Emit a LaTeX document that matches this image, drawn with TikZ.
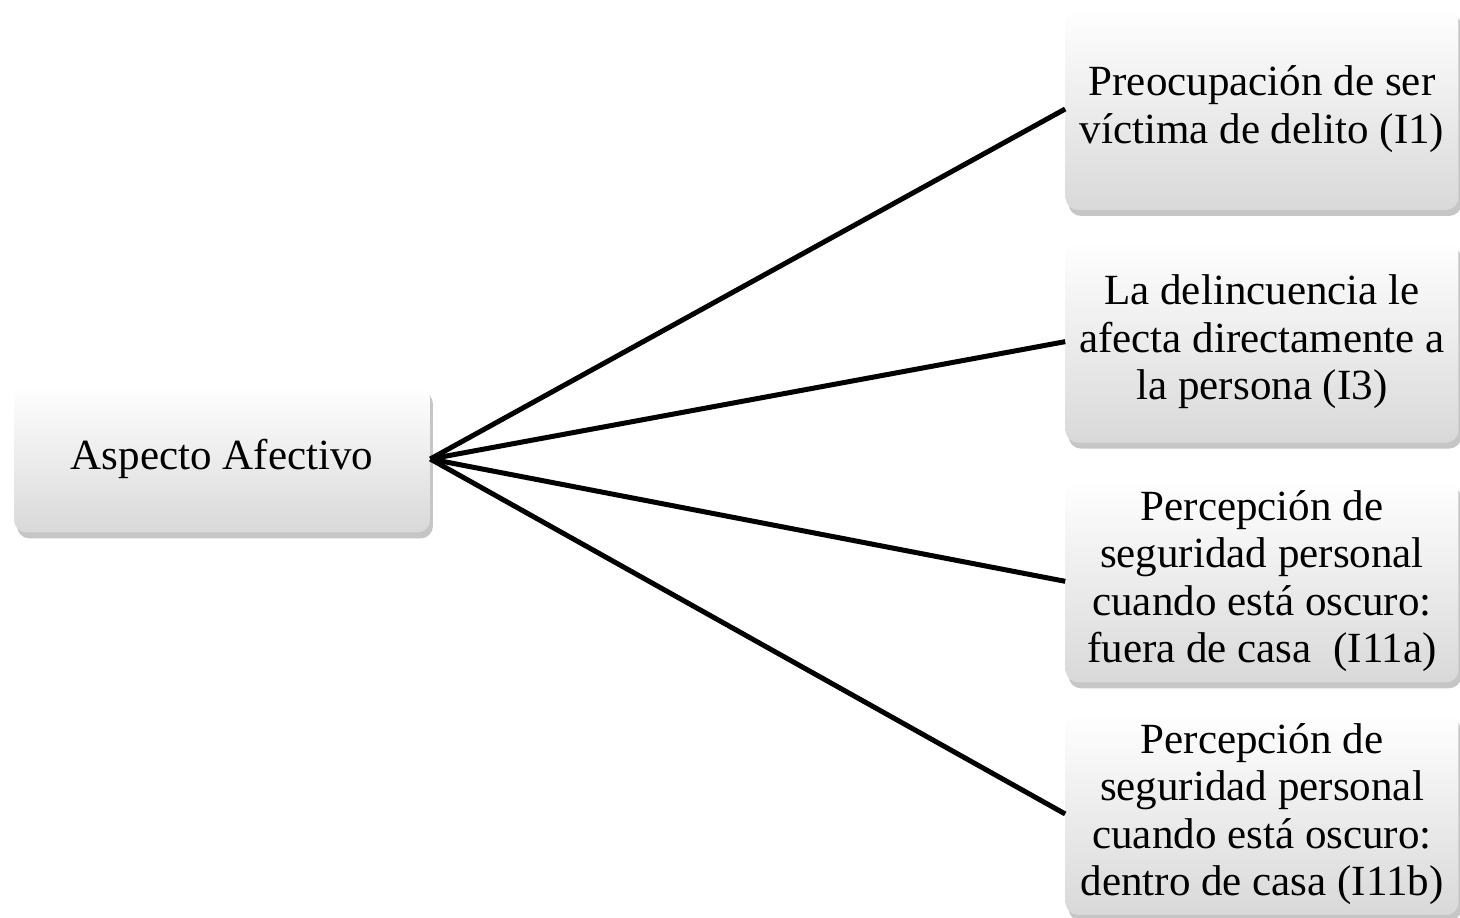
\documentclass[tikz,border=0pt]{standalone}
\usepackage{fontspec}
\setmainfont{Liberation Serif}
\usetikzlibrary{positioning,shadows}
\tikzset{
    box/.style={rectangle,rounded corners=2.5mm,top color=white,bottom color=black!15,
        drop shadow={shadow xshift=0.6mm,shadow yshift=-1.2mm,opacity=0.45},
        align=center,font=\fontsize{24.5}{27}\selectfont,inner sep=2mm},
    root/.style={box,minimum width=8.32cm,minimum height=2.94cm},
    item/.style={box,minimum width=7.86cm,minimum height=4.04cm},
    link/.style={-,line width=1mm}
}

\begin{document}
\begin{tikzpicture}[x=0.02cm,y=-0.02cm]
    \useasboundingbox (0,0) rectangle (1460,918);

    \node[root] (afectivo) at (222,459) {Aspecto Afectivo};

    \node[item] (i1) at (1262,109) {Preocupación de ser\\víctima de delito (I1)};
    \node[item] (i3) [below=0.6cm of i1] {La delincuencia le\\afecta directamente a\\la persona (I3)};
    \node[item] (i11a) [below=0.74cm of i3] {Percepción de\\seguridad personal\\cuando está oscuro:\\fuera de casa~~(I11a)};
    \node[item] (i11b) [below=0.6cm of i11a] {Percepción de\\seguridad personal\\cuando está oscuro:\\dentro de casa (I11b)};

    \foreach \t in {i1,i3,i11a,i11b}
        \draw[link] (afectivo.east) -- (\t.west);

\end{tikzpicture}
\end{document}
